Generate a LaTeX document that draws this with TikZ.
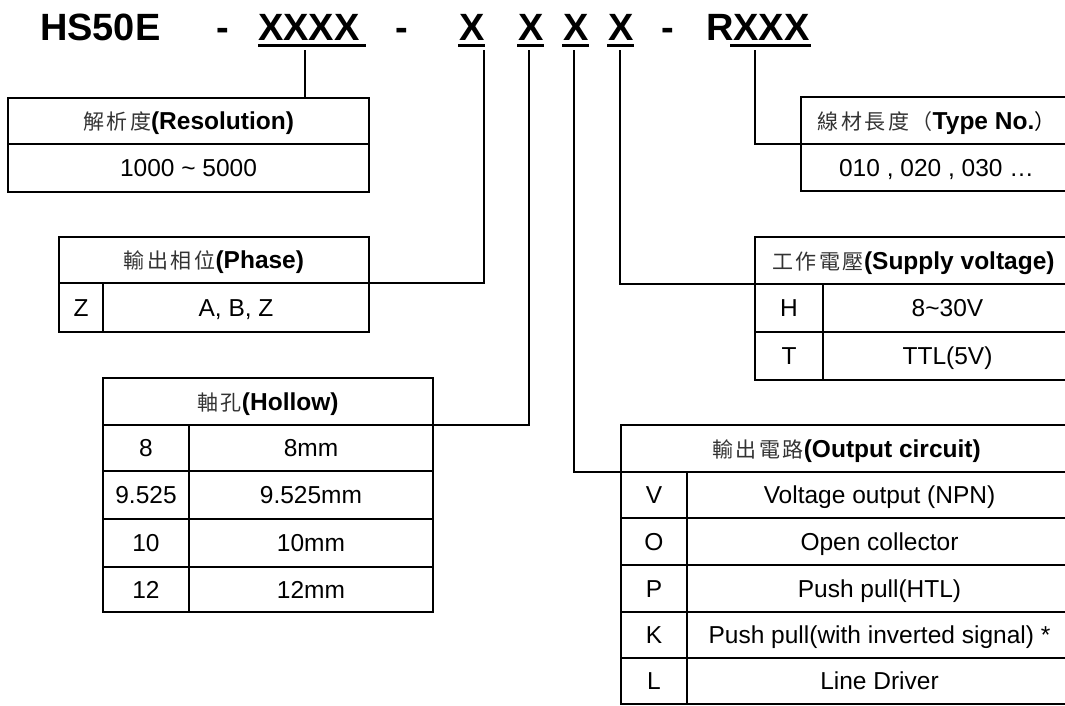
\documentclass[tikz,border=0pt]{standalone}
\usepackage{fontspec}
\setmainfont{Liberation Sans}
\newfontfamily\cjk[LetterSpace=12]{Noto Sans CJK TC}
\newcommand\hd[2]{{\cjk\color{black!80}\fontsize{21}{26}\selectfont #1}\textbf{#2}}
\begin{document}
\begin{tikzpicture}[x=1pt,y=-1pt,
  cell/.style={draw, line width=1.5pt, inner sep=0pt, outer sep=0pt, anchor=north west, text height=17.5pt, text depth=0pt, font=\fontsize{24.5}{28}\selectfont},
  ttl/.style={anchor=base west, inner sep=0pt, outer sep=0pt, font=\fontsize{38}{44}\selectfont\bfseries},
  dashmark/.style={anchor=base, inner sep=0pt, outer sep=0pt, font=\fontsize{38}{44}\selectfont\bfseries},
  conn/.style={line width=1.5pt},
  ul/.style={line width=3.5pt}]
\useasboundingbox (0,0) rectangle (1065,705);
\clip (0,0) rectangle (1065,705);

% title
\node[ttl] (hs) at (40,40) {HS50E};
\node[dashmark] (d1) at (223,40) {-};
\node[ttl] (t1) at (258,40) {XXXX};
\node[dashmark] (d2) at (402,40) {-};
\node[ttl] (t2) at (459,40) {X};
\node[ttl] (t3) at (518,40) {X};
\node[ttl] (t4) at (563,40) {X};
\node[ttl] (t5) at (608,40) {X};
\node[dashmark] (d3) at (668,40) {-};
\node[ttl] (t6) at (706,40) {RXXX};

\draw[ul] (258,45.5) -- (366,45.5);
\draw[ul] (458,45.5) -- (485,45.5);
\draw[ul] (517,45.5) -- (544,45.5);
\draw[ul] (562,45.5) -- (589,45.5);
\draw[ul] (607,45.5) -- (634,45.5);
\draw[ul] (730,45.5) -- (811,45.5);

\coordinate (u1) at (305,50);
\coordinate (u2) at (484,50);
\coordinate (u3) at (529,50);
\coordinate (u4) at (574,50);
\coordinate (u5) at (620,50);
\coordinate (u6) at (755,50);

% Resolution
\node[cell, minimum width=361, minimum height=46] (resH) at (8,98) {\hd{解析度}{(Resolution)}};
\node[cell, minimum width=361, minimum height=48] (resV) at (8,144) {1000 \textasciitilde{} 5000};

% Phase
\node[cell, minimum width=310, minimum height=46] (phH) at (59,237) {\hd{輸出相位}{(Phase)}};
\node[cell, minimum width=44, minimum height=49] (phK) at (59,283) {Z};
\node[cell, minimum width=266, minimum height=49] (phV) at (103,283) {A, B, Z};

% Hollow
\node[cell, minimum width=330, minimum height=47] (hoH) at (103,378) {\hd{軸孔}{(Hollow)}};
\node[cell, minimum width=86, minimum height=46] (hoK1) at (103,425) {8};
\node[cell, minimum width=244, minimum height=46] (hoV1) at (189,425) {8mm};
\node[cell, minimum width=86, minimum height=48] (hoK2) at (103,471) {9.525};
\node[cell, minimum width=244, minimum height=48] (hoV2) at (189,471) {9.525mm};
\node[cell, minimum width=86, minimum height=48] (hoK3) at (103,519) {10};
\node[cell, minimum width=244, minimum height=48] (hoV3) at (189,519) {10mm};
\node[cell, minimum width=86, minimum height=45] (hoK4) at (103,567) {12};
\node[cell, minimum width=244, minimum height=45] (hoV4) at (189,567) {12mm};

% Type No.
\node[cell, minimum width=271, minimum height=47] (tyH) at (801,97) {{\cjk\color{black!80}\fontsize{21}{26}\selectfont 線材長度（}\textbf{Type No.}{\cjk\fontsize{21}{26}\selectfont ）}};
\node[cell, minimum width=271, minimum height=47] (tyV) at (801,144) {010 , 020 , 030 \dots};

% Supply voltage
\node[cell, minimum width=317, minimum height=47] (suH) at (755,237) {\hd{工作電壓}{(Supply voltage)}};
\node[cell, minimum width=68, minimum height=48] (suK1) at (755,284) {H};
\node[cell, minimum width=249, minimum height=48] (suV1) at (823,284) {8\textasciitilde30V};
\node[cell, minimum width=68, minimum height=48] (suK2) at (755,332) {T};
\node[cell, minimum width=249, minimum height=48] (suV2) at (823,332) {TTL(5V)};

% Output circuit
\node[cell, minimum width=451, minimum height=47] (ouH) at (621,425) {\hd{輸出電路}{(Output circuit)}};
\node[cell, minimum width=66, minimum height=46] (ouK1) at (621,472) {V};
\node[cell, minimum width=385, minimum height=46] (ouV1) at (687,472) {Voltage output (NPN)};
\node[cell, minimum width=66, minimum height=47] (ouK2) at (621,518) {O};
\node[cell, minimum width=385, minimum height=47] (ouV2) at (687,518) {Open collector};
\node[cell, minimum width=66, minimum height=47] (ouK3) at (621,565) {P};
\node[cell, minimum width=385, minimum height=47] (ouV3) at (687,565) {Push pull(HTL)};
\node[cell, minimum width=66, minimum height=46] (ouK4) at (621,612) {K};
\node[cell, minimum width=385, minimum height=46] (ouV4) at (687,612) {Push pull(with inverted signal) *};
\node[cell, minimum width=66, minimum height=46] (ouK5) at (621,658) {L};
\node[cell, minimum width=385, minimum height=46] (ouV5) at (687,658) {Line Driver};

% connectors
\draw[conn] (u1) -- (u1 |- resH.north);
\draw[conn] (u2) |- (phH.south east);
\draw[conn] (u3) |- (hoH.south east);
\draw[conn] (u4) |- (ouH.south west);
\draw[conn] (u5) |- (suH.south west);
\draw[conn] (u6) |- (tyH.south west);
\end{tikzpicture}
\end{document}
